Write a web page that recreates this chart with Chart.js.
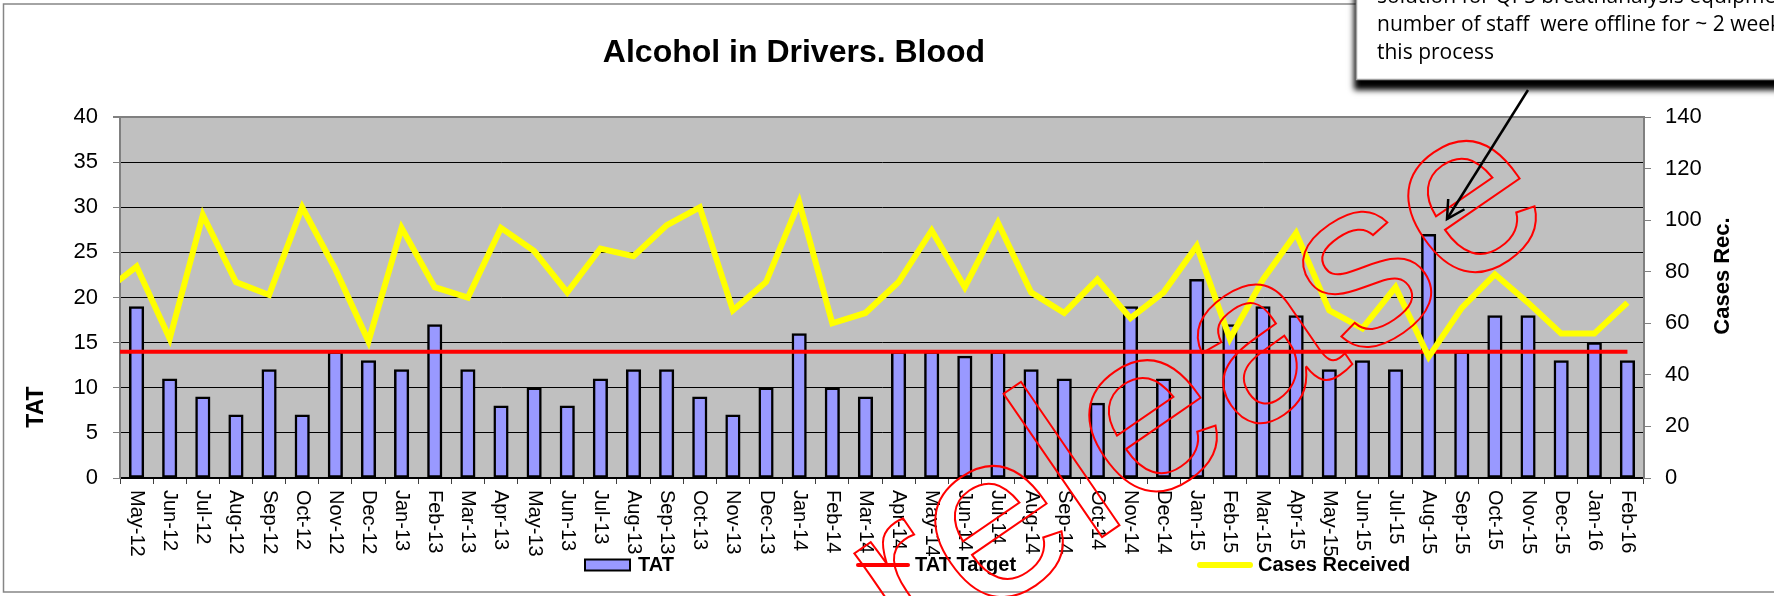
<!DOCTYPE html>
<html><head><meta charset="utf-8">
<script src="https://cdn.jsdelivr.net/npm/chart.js@4.4.1/dist/chart.umd.min.js"></script>
<style>html,body{margin:0;padding:0;background:#fff;}canvas{display:block;}</style>
</head><body>
<canvas id="c" width="1774" height="596"></canvas>
<script>
// ---------- data ----------
const categories = ['May-12','Jun-12','Jul-12','Aug-12','Sep-12','Oct-12','Nov-12','Dec-12',
  'Jan-13','Feb-13','Mar-13','Apr-13','May-13','Jun-13','Jul-13','Aug-13','Sep-13','Oct-13','Nov-13','Dec-13',
  'Jan-14','Feb-14','Mar-14','Apr-14','May-14','Jun-14','Jul-14','Aug-14','Sep-14','Oct-14','Nov-14','Dec-14',
  'Jan-15','Feb-15','Mar-15','Apr-15','May-15','Jun-15','Jul-15','Aug-15','Sep-15','Oct-15','Nov-15','Dec-15',
  'Jan-16','Feb-16'];
const tatValues = [19,11,9,7,12,7,14,13,
  12,17,12,8,10,8,11,12,12,9,7,10,
  16,10,9,14,14,13.5,14,12,11,8.3,19,11,
  22,17,19,18,12,13,12,27,14,18,18,13,
  15,13];
const tatTarget = 14;
const casesPrevMonth = 72;   // month before May-12, line enters from the left edge
const casesReceived = [82,54,102,76,71,105,81,53,
  97,74,70,97,88,72,89,86,98,105,65,76,
  107,60,64,76,96,74,99,72,64,77,62,72,
  90,54,77,95,65,58,74,47,66,79,68,56,
  56,68];
const leftTickLabels = [0,5,10,15,20,25,30,35,40];
const rightTickLabels = [0,20,40,60,80,100,120,140];
const chartTitle = 'Alcohol in Drivers. Blood';
const leftAxisTitle = 'TAT';
const rightAxisTitle = 'Cases Rec.';
const legendLabels = ['TAT','TAT Target','Cases Received'];
const calloutLines = ['solution for QPS breathanalysis equipment, a',
  'number of staff  were offline for ~ 2 weeks',
  'this process'];
const watermarkText = 'release';

// ---------- styles ----------
const FONT = '"Liberation Sans", Arial, sans-serif';
const BAR_FILL = '#9999FF', TARGET_COLOR = '#FF0000', CASES_COLOR = '#FFFF00';

Chart.defaults.font.family = FONT;
Chart.defaults.color = '#000';

const targetData = [{x:-1, y:tatTarget}].concat(categories.map((c,i)=>({x:i, y:tatTarget})));
const casesData = [{x:-1, y:casesPrevMonth}].concat(casesReceived.map((v,i)=>({x:i, y:v})));

const decor = {
  id: 'decor',
  beforeDraw(chart) {
    const {ctx, chartArea:a} = chart;
    ctx.save();
    ctx.fillStyle = '#fff';
    ctx.fillRect(0,0,chart.width,chart.height);
    ctx.fillStyle = '#C0C0C0';
    ctx.fillRect(a.left, a.top, a.right-a.left, a.bottom-a.top);
    ctx.restore();
  },
  afterDraw(chart) {
    const {ctx, chartArea:a} = chart;
    const xs = chart.scales.x;
    ctx.save();
    // x labels rotated clockwise
    ctx.fillStyle = '#000';
    ctx.font = '20px ' + FONT;
    ctx.textAlign = 'left'; ctx.textBaseline = 'middle';
    categories.forEach((lab,i)=>{
      const px = xs.getPixelForTick(i);
      ctx.save(); ctx.translate(px, a.bottom + 12); ctx.rotate(Math.PI/2);
      ctx.fillText(lab, 0, 0); ctx.restore();
    });
    // axis titles
    ctx.font = 'bold 23px ' + FONT;
    ctx.textAlign = 'center';
    ctx.save(); ctx.translate(37, 407); ctx.rotate(-Math.PI/2); ctx.fillText(leftAxisTitle,0,0); ctx.restore();
    ctx.font = 'bold 22px ' + FONT;
    ctx.save(); ctx.translate(1723, 276); ctx.rotate(-Math.PI/2); ctx.fillText(rightAxisTitle,0,0); ctx.restore();
    // title
    ctx.font = 'bold 32px ' + FONT;
    ctx.textBaseline = 'alphabetic';
    ctx.fillText(chartTitle, 794, 62);
    // legend
    const ly = 565;
    ctx.fillStyle = BAR_FILL; ctx.fillRect(585, ly-5.5, 45, 11);
    ctx.strokeStyle = '#000'; ctx.lineWidth = 2; ctx.strokeRect(585, ly-5.5, 45, 11);
    ctx.lineCap = 'round';
    ctx.strokeStyle = TARGET_COLOR; ctx.lineWidth = 4;
    ctx.beginPath(); ctx.moveTo(858, ly); ctx.lineTo(908, ly); ctx.stroke();
    ctx.strokeStyle = CASES_COLOR; ctx.lineWidth = 6;
    ctx.beginPath(); ctx.moveTo(1200, ly); ctx.lineTo(1250, ly); ctx.stroke();
    ctx.lineCap = 'butt';
    ctx.fillStyle = '#000';
    ctx.font = 'bold 20px ' + FONT; ctx.textAlign = 'left'; ctx.textBaseline = 'middle';
    ctx.fillText(legendLabels[0], 638, ly);
    ctx.fillText(legendLabels[1], 915, ly);
    ctx.fillText(legendLabels[2], 1258, ly);
    // outer border
    ctx.strokeStyle = '#868686'; ctx.lineWidth = 1.5;
    ctx.strokeRect(3.5, 4, 1800, 588);
    // watermark
    ctx.save();
    ctx.translate(913, 667); ctx.rotate(-34.5*Math.PI/180);
    ctx.font = '240px ' + FONT; ctx.textAlign = 'left'; ctx.textBaseline = 'alphabetic';
    ctx.strokeStyle = '#FF0000'; ctx.lineWidth = 2;
    ctx.strokeText(watermarkText, 0, 0);
    ctx.restore();
    // callout box
    ctx.save();
    ctx.shadowColor = 'rgba(0,0,0,1)'; ctx.shadowBlur = 6; ctx.shadowOffsetX = -2; ctx.shadowOffsetY = 10;
    ctx.fillStyle = '#fff'; ctx.fillRect(1356, -20, 440, 99.5);
    ctx.restore();
    ctx.strokeStyle = '#a0a0a0'; ctx.lineWidth = 1.5;
    ctx.strokeRect(1356.5, -20, 440, 99.5);
    ctx.fillStyle = '#000';
    ctx.font = '21px "Open Sans", sans-serif'; ctx.textAlign = 'left'; ctx.textBaseline = 'alphabetic';
    calloutLines.forEach((t,i)=> ctx.fillText(t, 1377, 3 + 28*i));
    // arrow
    ctx.strokeStyle = '#000'; ctx.lineWidth = 2.5;
    const x0 = 1528, y0 = 90, x1 = 1447, y1 = 219;
    ctx.beginPath(); ctx.moveTo(x0,y0); ctx.lineTo(x1,y1); ctx.stroke();
    const ang = Math.atan2(y0-y1, x0-x1);
    ctx.beginPath();
    ctx.moveTo(x1 + 20*Math.cos(ang-0.5), y1 + 20*Math.sin(ang-0.5));
    ctx.lineTo(x1, y1);
    ctx.lineTo(x1 + 20*Math.cos(ang+0.5), y1 + 20*Math.sin(ang+0.5));
    ctx.stroke();
    ctx.restore();
  }
};

new Chart(document.getElementById('c'), {
  data: {
    labels: categories,
    datasets: [
      { type:'bar', label: legendLabels[0], data: tatValues, xAxisID:'x', yAxisID:'y',
        backgroundColor: BAR_FILL, borderColor:'#000', borderWidth: 2.5, borderSkipped: false,
        grouped: false, barThickness: 14.5, order: 3 },
      { type:'line', label: legendLabels[1], data: targetData, xAxisID:'x2', yAxisID:'y',
        borderColor: TARGET_COLOR, borderWidth: 4, pointRadius: 0, tension: 0, order: 2, clip: 0 },
      { type:'line', label: legendLabels[2], data: casesData, xAxisID:'x2', yAxisID:'y1',
        borderColor: CASES_COLOR, borderWidth: 6, pointRadius: 0, tension: 0, order: 1, clip: 0 }
    ]
  },
  options: {
    responsive: false, animation: false, devicePixelRatio: 1,
    layout: { padding: { top: 117, left: 0, right: 0, bottom: 0 } },
    plugins: { legend: {display:false}, title:{display:false}, tooltip:{enabled:false} },
    scales: {
      x: { type:'category', offset: true,
        grid: { offset: true, drawOnChartArea: false, drawTicks: true, tickLength: 6, tickColor: '#404040' },
        border: { color: '#000', width: 2 },
        ticks: { display: false },
        afterFit(s){ s.height = 118; } },
      x2: { type:'linear', display: false, min: -0.5, max: categories.length - 0.5 },
      y: { position:'left', min: leftTickLabels[0], max: leftTickLabels[leftTickLabels.length-1],
        ticks: { stepSize: leftTickLabels[1]-leftTickLabels[0], font:{size:22}, color:'#000', padding: 15 },
        grid: { color: c => (c.tick && c.tick.value === 40) ? '#808080' : '#000',
                lineWidth: c => (c.tick && c.tick.value === 40) ? 2 : 1,
                tickColor: '#808080', tickLength: 7 },
        border: { color: '#808080', width: 2 },
        afterFit(s){ s.width = 120; } },
      y1: { position:'right', min: rightTickLabels[0], max: rightTickLabels[rightTickLabels.length-1],
        ticks: { stepSize: rightTickLabels[1]-rightTickLabels[0], font:{size:22}, color:'#000', padding: 14 },
        grid: { drawOnChartArea: false, tickColor: '#808080', tickLength: 7 },
        border: { color: '#808080', width: 2 },
        afterFit(s){ s.width = 130; } }
    }
  },
  plugins: [decor]
});
</script>
</body></html>
